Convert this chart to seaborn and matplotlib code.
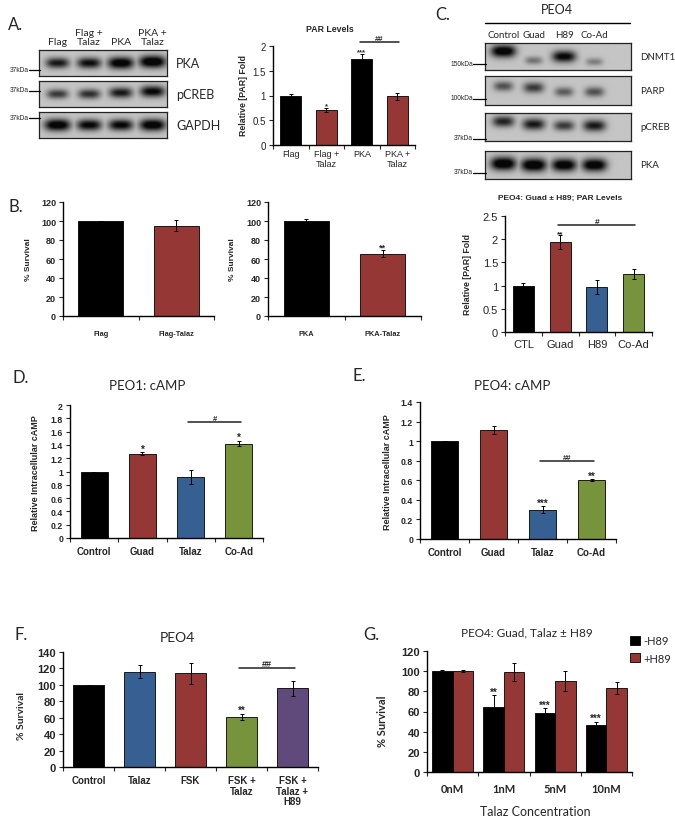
import matplotlib
matplotlib.use('Agg')
import matplotlib.pyplot as plt
import matplotlib.transforms as mtransforms
from matplotlib.lines import Line2D
from matplotlib.patches import Patch
import numpy as np
import pandas as pd
import seaborn as sns

W, H = 675, 837
SANS = ['Liberation Sans', 'DejaVu Sans']
CAL = ['Lato', 'DejaVu Sans']

BLACK = '#000000'
RED = '#953735'
BLUE = '#376092'
GREEN = '#77933C'
PURPLE = '#604A7B'

# A: western blot
a_lanes = ['Flag', 'Flag +\nTalaz', 'PKA', 'PKA +\nTalaz']
a_rows = ['PKA', 'pCREB', 'GAPDH']
a_markers = ['37kDa', '37kDa', '37kDa']
a_band_int = [[0.75, 0.8, 0.95, 1.0],
              [0.6, 0.65, 0.75, 0.85],
              [0.95, 0.85, 0.85, 0.95]]
a_band_y = [[0.5, 0.5, 0.5, 0.55],
            [0.5, 0.5, 0.55, 0.6],
            [0.5, 0.5, 0.5, 0.5]]

# A: PAR levels
a_cats = ['Flag', 'Flag +\nTalaz', 'PKA', 'PKA +\nTalaz']
a_vals = [1.0, 0.70, 1.73, 0.98]
a_err = [0.03, 0.04, 0.10, 0.07]
a_sig = ['', '*', '***', '']

# B: survival
b1_cats = ['Flag', 'Flag-Talaz']
b1_vals = [100, 95]
b1_err = [0, 6]
b2_cats = ['PKA', 'PKA-Talaz']
b2_vals = [100, 65.5]
b2_err = [2, 3.5]
b2_sig = ['', '**']

# C: western blot
c_lanes = ['Control', 'Guad', 'H89', 'Co-Ad']
c_rows = ['DNMT1', 'PARP', 'pCREB', 'PKA']
c_markers = ['150kDa', '100kDa', '37kDa', '37kDa']
c_band_int = [[0.95, 0.35, 0.85, 0.3],
              [0.5, 0.6, 0.45, 0.5],
              [0.7, 0.75, 0.6, 0.75],
              [1.0, 1.0, 0.95, 0.95]]
c_band_y = [[0.7, 0.35, 0.5, 0.3],
            [0.65, 0.6, 0.45, 0.45],
            [0.7, 0.6, 0.55, 0.55],
            [0.55, 0.5, 0.5, 0.5]]

# C: PAR levels
c_cats = ['CTL', 'Guad', 'H89', 'Co-Ad']
c_vals = [1.0, 1.93, 0.96, 1.25]
c_err = [0.05, 0.15, 0.15, 0.10]
c_sig = ['', '**', '', '']

# D: PEO1 cAMP
d_cats = ['Control', 'Guad', 'Talaz', 'Co-Ad']
d_vals = [1.0, 1.27, 0.92, 1.42]
d_err = [0, 0.02, 0.11, 0.04]
d_sig = ['', '*', '', '*']

# E: PEO4 cAMP
e_cats = ['Control', 'Guad', 'Talaz', 'Co-Ad']
e_vals = [1.0, 1.11, 0.30, 0.60]
e_err = [0, 0.04, 0.035, 0.01]
e_sig = ['', '', '***', '**']

# F: PEO4 survival
f_cats = ['Control', 'Talaz', 'FSK', 'FSK +\nTalaz', 'FSK +\nTalaz +\nH89']
f_vals = [100, 116, 114, 61, 96]
f_err = [0, 8, 13, 4, 9]
f_sig = ['', '', '', '**', '']

# G: Talaz dose +/- H89
g_conc = ['0nM', '1nM', '5nM', '10nM']
g_minus = [100, 64, 59, 47]
g_minus_err = [1, 12, 4, 3]
g_minus_sig = ['', '**', '***', '***']
g_plus = [100, 99.5, 90, 83]
g_plus_err = [1, 9, 10, 6]


def box(x0, y0, x1, y1):
    return [x0 / W, 1 - y1 / H, (x1 - x0) / W, (y1 - y0) / H]


def ftext(fig, x, y, s, **kw):
    kw.setdefault('ha', 'center')
    kw.setdefault('va', 'center')
    fig.text(x / W, 1 - y / H, s, **kw)


def fline(fig, x0, x1, y, lw=1.0, color='black'):
    fig.add_artist(Line2D([x0 / W, x1 / W], [1 - y / H, 1 - y / H],
                          transform=fig.transFigure, color=color, lw=lw))


def style_axes(ax, n, ymax, step, yfs, yweight, xlabels, xfs, xweight,
               xfamily=SANS, xpad=4):
    ticks = np.arange(0, ymax + step / 2, step)
    ax.set_ylim(0, ymax)
    ax.set_yticks(ticks, labels=[f'{v:g}' for v in ticks],
                  fontsize=yfs, fontweight=yweight)
    ax.set_xlim(-0.5, n - 0.5)
    ax.set_xticks(np.arange(n), labels=xlabels, fontsize=xfs,
                  fontweight=xweight, family=xfamily, linespacing=1.05)
    ax.set_xticks(np.arange(-0.5, n), minor=True)
    ax.tick_params(axis='x', which='major', length=0, pad=xpad)
    ax.tick_params(axis='x', which='minor', length=3, width=0.8, direction='out')
    ax.tick_params(axis='y', length=3, width=0.8, direction='out', pad=2)
    sns.despine(ax=ax)
    for s in ['left', 'bottom']:
        ax.spines[s].set_linewidth(1.0)
        ax.spines[s].set_color('black')
    ax.set_xlabel('')
    ax.set_ylabel('')


def add_stars(ax, xs, vals, errs, sig, fs):
    for x, v, e, s in zip(xs, vals, errs, sig):
        if s:
            ax.annotate(s, (x, v + e), xytext=(0, 0.5), textcoords='offset points',
                        ha='center', va='baseline', fontsize=fs, fontweight='bold')


def add_bracket(ax, vals, errs, bracket, ymax, frac, fs):
    i0, i1, label = bracket
    y = max(v + e for v, e in zip(vals[i0:i1 + 1], errs[i0:i1 + 1])) + frac * ymax
    ax.plot([i0 - 0.05, i1 + 0.05], [y, y], color='#222222', lw=1.1, clip_on=False)
    ax.text((i0 + i1) / 2, y, label, ha='center', va='bottom', fontsize=fs,
            fontweight='bold', clip_on=False)


def bar_panel(fig, rect, cats, vals, errs, colors, ymax, step, sig=None,
              bracket=None, width=0.6, yfs=7, yweight='bold', xfs=7,
              xweight='bold', xfamily=SANS, xpad=4, star_fs=6.5, br_frac=0.13,
              br_fs=6):
    ax = fig.add_axes(box(*rect))
    sns.barplot(x=cats, y=vals, hue=cats, palette=colors, legend=False,
                width=width, saturation=1, edgecolor='black', linewidth=0.6,
                errorbar=None, ax=ax)
    pos = np.arange(len(cats))
    ax.errorbar(pos, vals, yerr=errs, fmt='none', ecolor='black',
                elinewidth=0.7, capsize=1.5, capthick=0.7)
    style_axes(ax, len(cats), ymax, step, yfs, yweight, cats, xfs, xweight,
               xfamily, xpad)
    if sig:
        add_stars(ax, pos, vals, errs, sig, star_fs)
    if bracket:
        add_bracket(ax, vals, errs, bracket, ymax, br_frac, br_fs)
    return ax


def draw_blot(fig, rect, intens, band_y, xlim):
    ax = fig.add_axes(box(*rect))
    xs = np.linspace(xlim[0], xlim[1], 300)
    ys = np.linspace(0, 1, 60)
    X, Y = np.meshgrid(xs, ys)
    dark = np.zeros_like(X)
    for i, (v, by) in enumerate(zip(intens, band_y)):
        wx = 0.22 + 0.2 * v
        wy = 0.1 + 0.14 * v
        d = v * np.exp(-np.abs((X - i) / wx) ** 3) * np.exp(-((Y - by) / wy) ** 2)
        dark = np.maximum(dark, d)
    img = 0.77 - 0.74 * np.clip(dark * 1.25, 0, 1)
    ax.imshow(img, cmap='gray', vmin=0, vmax=1, origin='lower', aspect='auto',
              extent=[xlim[0], xlim[1], 0, 1], interpolation='bilinear')
    ax.set_xlim(xlim)
    ax.set_ylim(0, 1)
    ax.set_xticks([])
    ax.set_yticks([])
    for s in ax.spines.values():
        s.set_visible(True)
        s.set_linewidth(0.9)
        s.set_color('#222222')
    return ax


def panel_a(fig):
    ftext(fig, 8, 25, 'A.', ha='left', fontsize=12, family=CAL)
    rows_px = [(51, 77), (82, 108), (113, 139)]
    marker_y = [70, 91, 118]
    xlim = (-0.58, 3.45)
    top = None
    for name, mk, (y0, y1), my, ints, bys in zip(a_rows, a_markers, rows_px,
                                                 marker_y, a_band_int, a_band_y):
        ax = draw_blot(fig, (39, y0, 167, y1), ints, bys, xlim)
        if top is None:
            top = ax
        ftext(fig, 176, (y0 + y1) / 2, name, ha='left', fontsize=9, family=CAL)
        ftext(fig, 29, my, mk, ha='right', fontsize=4.8)
        fline(fig, 29, 40, my + 1, lw=0.9)
    trans = mtransforms.blended_transform_factory(top.transData, fig.transFigure)
    for i, lane in enumerate(a_lanes):
        top.text(i, 1 - 47 / H, lane, transform=trans, ha='center', va='bottom',
                 fontsize=7.5, family=CAL, linespacing=1.0)

    bar_panel(fig, (273, 47, 415, 146), a_cats, a_vals, a_err,
              [BLACK, RED, BLACK, RED], 2, 0.5, sig=a_sig,
              bracket=(2, 3, '##'), yfs=7, yweight='normal', xfs=6.5,
              xweight='normal', xpad=3, star_fs=5.5, br_frac=0.13, br_fs=5.5)
    ftext(fig, 330, 30, 'PAR Levels', fontsize=6.3, fontweight='bold')
    ftext(fig, 243, 96, 'Relative [PAR] Fold', rotation=90, fontsize=6.3,
          fontweight='bold')


def panel_b(fig):
    ftext(fig, 8, 207, 'B.', ha='left', fontsize=12, family=CAL)
    bar_panel(fig, (63, 203, 214, 317), b1_cats, b1_vals, b1_err,
              [BLACK, RED], 120, 20, yfs=6.5, xfs=5.3, xpad=10, width=0.59)
    bar_panel(fig, (268, 203, 421, 317), b2_cats, b2_vals, b2_err,
              [BLACK, RED], 120, 20, sig=b2_sig, yfs=6.5, xfs=5.3, xpad=10,
              width=0.59)
    for x in [28, 233]:
        ftext(fig, x, 260, '% Survival', rotation=90, fontsize=6,
              fontweight='bold')


def panel_c(fig):
    ftext(fig, 435, 15, 'C.', ha='left', fontsize=12, family=CAL)
    ftext(fig, 557, 10, 'PEO4', fontsize=9, family=CAL)
    fline(fig, 485, 630, 24, lw=1.0)
    rows_px = [(44, 71), (77, 106), (114, 142), (152, 180)]
    marker_y = [64, 99, 139, 173]
    xlim = (-0.6, 4.2)
    top = None
    for name, mk, (y0, y1), my, ints, bys in zip(c_rows, c_markers, rows_px,
                                                 marker_y, c_band_int, c_band_y):
        ax = draw_blot(fig, (485, y0, 631, y1), ints, bys, xlim)
        if top is None:
            top = ax
        ftext(fig, 640, (y0 + y1) / 2, name, ha='left', fontsize=7, family=CAL)
        ftext(fig, 473, my, mk, ha='right', fontsize=4.8)
        fline(fig, 473, 486, my + 1, lw=0.9)
    trans = mtransforms.blended_transform_factory(top.transData, fig.transFigure)
    for i, lane in enumerate(c_lanes):
        top.text(i, 1 - 36 / H, lane, transform=trans, ha='center', va='center',
                 fontsize=7, family=CAL)

    bar_panel(fig, (505, 217, 652, 333), c_cats, c_vals, c_err,
              [BLACK, RED, BLUE, GREEN], 2.5, 0.5, sig=c_sig,
              bracket=(1, 3, '#'), yfs=8, yweight='normal', xfs=8,
              xweight='normal', xpad=5, width=0.57, star_fs=6, br_frac=0.09,
              br_fs=6)
    ftext(fig, 560, 198, 'PEO4: Guad \u00b1 H89; PAR Levels', fontsize=6,
          fontweight='bold')
    ftext(fig, 467, 275, 'Relative [PAR] Fold', rotation=90, fontsize=6.3,
          fontweight='bold')


def panel_de(fig):
    ftext(fig, 12, 378, 'D.', ha='left', fontsize=12, family=CAL)
    bar_panel(fig, (70, 406, 263, 539), d_cats, d_vals, d_err,
              [BLACK, RED, BLUE, GREEN], 2, 0.2, sig=d_sig,
              bracket=(2, 3, '#'), yfs=6.3, xfs=7, xpad=5.5, width=0.56,
              star_fs=7, br_frac=0.14, br_fs=5.5)
    ftext(fig, 147, 386, 'PEO1: cAMP', fontsize=9.5, family=CAL)
    ftext(fig, 35, 473, 'Relative Intracellular cAMP', rotation=90,
          fontsize=6.5, fontweight='bold')

    ftext(fig, 353, 376, 'E.', ha='left', fontsize=12, family=CAL)
    bar_panel(fig, (420, 403, 616, 540), e_cats, e_vals, e_err,
              [BLACK, RED, BLUE, GREEN], 1.4, 0.2, sig=e_sig,
              bracket=(2, 3, '##'), yfs=6.3, xfs=7, xpad=5.5, width=0.57,
              star_fs=7, br_frac=0.13, br_fs=5.5)
    ftext(fig, 512, 386, 'PEO4: cAMP', fontsize=9.5, family=CAL)
    ftext(fig, 387, 472, 'Relative Intracellular cAMP', rotation=90,
          fontsize=6.5, fontweight='bold')


def panel_f(fig):
    ftext(fig, 14, 635, 'F.', ha='left', fontsize=12, family=CAL)
    bar_panel(fig, (63, 653, 318, 768), f_cats, f_vals, f_err,
              [BLACK, BLUE, RED, GREEN, PURPLE], 140, 20, sig=f_sig,
              bracket=(3, 4, '##'), yfs=8, xfs=7, xpad=6, width=0.59,
              star_fs=7, br_frac=0.11, br_fs=6.5)
    ftext(fig, 177, 638, 'PEO4', fontsize=10, family=CAL)
    ftext(fig, 22, 716, '% Survival', rotation=90, fontsize=7.5,
          fontweight='bold', family=CAL)


def panel_g(fig):
    ftext(fig, 363, 635, 'G.', ha='left', fontsize=12, family=CAL)
    ax = fig.add_axes(box(427, 652, 632, 773))
    df = pd.DataFrame({'conc': g_conc * 2,
                       'val': g_minus + g_plus,
                       'cond': ['-H89'] * len(g_conc) + ['+H89'] * len(g_conc)})
    sns.barplot(data=df, x='conc', y='val', hue='cond', hue_order=['-H89', '+H89'],
                palette=[BLACK, RED], width=0.8, saturation=1, edgecolor='black',
                linewidth=0.6, errorbar=None, legend=False, ax=ax)
    for cont, vals, errs, sig in zip(ax.containers, [g_minus, g_plus],
                                     [g_minus_err, g_plus_err],
                                     [g_minus_sig, [''] * len(g_conc)]):
        xs = [b.get_x() + b.get_width() / 2 for b in cont]
        ax.errorbar(xs, vals, yerr=errs, fmt='none', ecolor='black',
                    elinewidth=0.7, capsize=1.5, capthick=0.7)
        add_stars(ax, xs, vals, errs, sig, 7)
    style_axes(ax, len(g_conc), 120, 20, 8, 'bold', g_conc, 8, 'bold',
               CAL, 8)
    ftext(fig, 527, 633, 'PEO4: Guad, Talaz \u00b1 H89', fontsize=8.5, family=CAL)
    ftext(fig, 535, 812, 'Talaz Concentration', fontsize=9, family=CAL)
    ftext(fig, 382, 721, '% Survival', rotation=90, fontsize=8,
          fontweight='bold', family=CAL)
    handles = [Patch(facecolor=BLACK, edgecolor='black', lw=0.6),
               Patch(facecolor=RED, edgecolor='black', lw=0.6)]
    fig.legend(handles, ['-H89', '+H89'], loc='upper left',
               bbox_to_anchor=(630 / W, 1 - 636 / H), frameon=False,
               handlelength=0.9, handleheight=0.9, handletextpad=0.3,
               labelspacing=0.6, borderpad=0, borderaxespad=0,
               prop={'family': CAL, 'size': 8})


def main():
    sns.set_style('ticks')
    plt.rcParams['font.family'] = SANS
    fig = plt.figure(figsize=(W / 100, H / 100), dpi=100)
    fig.patch.set_facecolor('white')
    panel_a(fig)
    panel_b(fig)
    panel_c(fig)
    panel_de(fig)
    panel_f(fig)
    panel_g(fig)
    fig.savefig('out.png', dpi=100)
    plt.close(fig)


if __name__ == '__main__':
    main()
